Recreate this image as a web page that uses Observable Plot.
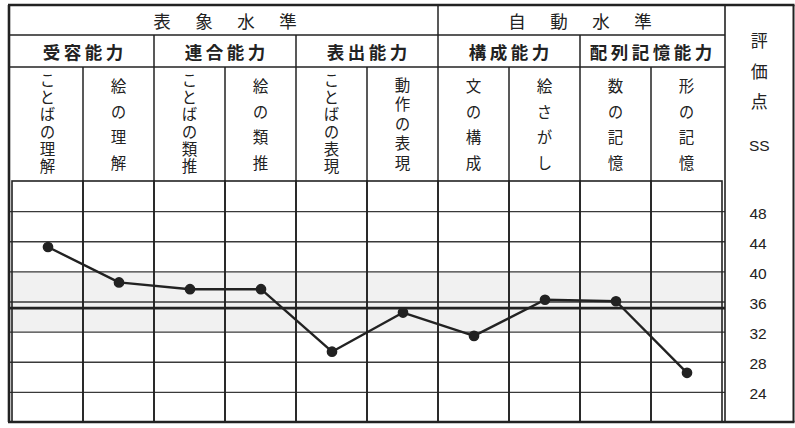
<!DOCTYPE html>
<html>
<head>
<meta charset="utf-8">
<script src="https://cdn.jsdelivr.net/npm/d3@7"></script>
<script src="https://cdn.jsdelivr.net/npm/@observablehq/plot@0.6"></script>
<style>
  body { margin: 0; background: #fff; }
  #chart svg { display: block; }
  .vt { writing-mode: vertical-rl; text-orientation: upright; }
</style>
</head>
<body>
<div id="chart"></div>
<script>
(() => {
// ---- data ----
const tests = ["ことばの理解", "絵の理解", "ことばの類推", "絵の類推", "ことばの表現",
               "動作の表現", "文の構成", "絵さがし", "数の記憶", "形の記憶"];
const scores = [43.3, 38.6, 37.7, 37.7, 29.4, 34.6, 31.5, 36.3, 36.1, 26.6];
const groups = ["受容能力", "連合能力", "表出能力", "構成能力", "配列記憶能力"];
const groupSpans = [[0, 1], [2, 3], [4, 5], [6, 7], [8, 9]];
const levels = ["表象水準", "自動水準"];
const levelSpans = [[0, 5], [6, 9]];
const ssTicks = [24, 28, 32, 36, 40, 44, 48];
const ssDomain = [20, 52];
const normalBand = [{lo: 32, hi: 40}];
const ssTitle = "評価点";
const ssUnit = "SS";

// ---- chart ----
const ink = "#222";
const jp = "'Noto Sans CJK JP', 'Noto Sans', sans-serif";
const data = tests.map((t, i) => ({test: t, ss: scores[i]}));
const meanSS = d3.mean(scores);

const W = 795, H = 428;
const mTop = 181, mBottom = 6, mLeft = 9, mRight = 70;

const chart = Plot.plot({
  width: W, height: H,
  marginTop: mTop, marginBottom: mBottom, marginLeft: mLeft, marginRight: mRight,
  style: {fontFamily: "'Liberation Sans', Arial, sans-serif", background: "#fff", color: ink},
  x: {domain: tests, padding: 0, axis: null},
  y: {domain: ssDomain},
  marks: [
    Plot.rectY(normalBand, {y1: "lo", y2: "hi", fill: "#f1f1f1"}),
    Plot.ruleY(ssTicks, {stroke: "#3a3a3a", strokeWidth: 1.4}),
    Plot.ruleY([meanSS], {stroke: ink, strokeWidth: 2.8}),
    Plot.cell(tests, {x: d => d, fill: "none", stroke: ink, strokeWidth: 1.6}),
    Plot.line(data, {x: "test", y: "ss", stroke: ink, strokeWidth: 2.4}),
    Plot.dot(data, {x: "test", y: "ss", r: 4.6, fill: ink, stroke: ink}),
    Plot.axisY(ssTicks, {anchor: "right", tickSize: 0, tickPadding: 24, fontSize: 15.5,
                         label: null, dy: 2})
  ]
});
document.getElementById("chart").appendChild(chart);

// ---- table header, drawn with the same x scale ----
const svg = d3.select(chart);
const xs = chart.scale("x");
const bw = xs.bandwidth;
const x0 = i => xs.apply(tests[i]);
const x1 = i => xs.apply(tests[i]) + bw;
const leftX = mLeft, plotRight = W - mRight, rightX = W - 1.5;
const topY = 5, row1 = 35, row2 = 67, bottomY = H - mBottom;

const lines = svg.append("g").attr("stroke", ink).attr("fill", "none");
function seg(xa, ya, xb, yb, w) {
  lines.append("line").attr("x1", xa).attr("y1", ya).attr("x2", xb).attr("y2", yb)
    .attr("stroke-width", w);
}
seg(leftX, row1, plotRight, row1, 1.5);
seg(leftX, row2, plotRight, row2, 1.5);
levelSpans.slice(1).forEach(([a]) => seg(x0(a), topY, x0(a), row1, 1.5));
groupSpans.slice(1).forEach(([a]) => seg(x0(a), row1, x0(a), row2, 1.5));
tests.forEach((t, i) => { if (i > 0) seg(x0(i), row2, x0(i), mTop, 1.5); });
seg(plotRight, topY, plotRight, bottomY, 1.6);
seg(leftX - 1, topY, rightX + 1, topY, 2.4);
seg(leftX - 1, bottomY, rightX + 1, bottomY, 2.4);
seg(leftX, topY, leftX, bottomY, 2.6);
seg(rightX, topY, rightX, bottomY, 2);

const txt = svg.append("g").attr("fill", ink).attr("font-family", jp);

// horizontal, letter-spaced text as one text element with positioned tspans
function spaced(str, cx, cy, spacing, size, weight) {
  const chars = Array.from(str);
  const n = chars.length;
  const t = txt.append("text").attr("y", cy).attr("font-size", size)
    .attr("text-anchor", "middle").attr("dominant-baseline", "central")
    .attr("font-weight", weight || "normal");
  chars.forEach((c, k) => {
    t.append("tspan").attr("x", cx + (k - (n - 1) / 2) * spacing).attr("y", cy).text(c);
  });
}
// vertical text (one element): first character centred at firstY, centre-to-centre step
function vertical(str, cx, firstY, step, size) {
  txt.append("text").attr("class", "vt")
    .attr("text-anchor", "start")
    .attr("x", cx).attr("y", firstY - size / 2)
    .attr("font-size", size)
    .style("letter-spacing", (step - size) + "px")
    .text(str);
}

levels.forEach((lv, j) => {
  const [a, b] = levelSpans[j];
  spaced(lv, (x0(a) + x1(b)) / 2, 20, 42, 17.5);
});
groups.forEach((gp, j) => {
  const [a, b] = groupSpans[j];
  spaced(gp, (x0(a) + x1(b)) / 2, 51, 21, 17.5, "bold");
});
tests.forEach((t, i) => {
  const n = Array.from(t).length;
  const start = n >= 6 ? 80 : n === 5 ? 85 : 86.5;
  const step = n >= 6 ? 17.3 : n === 5 ? 19.5 : 25.5;
  vertical(t, x0(i) + bw / 2, start, step, 15.5);
});
const ssX = (plotRight + rightX) / 2;
vertical(ssTitle, ssX, 41, 30.5, 17);
txt.append("text").attr("x", ssX).attr("y", 145).attr("font-size", 15.5)
  .attr("text-anchor", "middle").attr("dominant-baseline", "central")
  .attr("font-family", "'Liberation Sans', Arial, sans-serif").text(ssUnit);
})();
</script>
</body>
</html>
